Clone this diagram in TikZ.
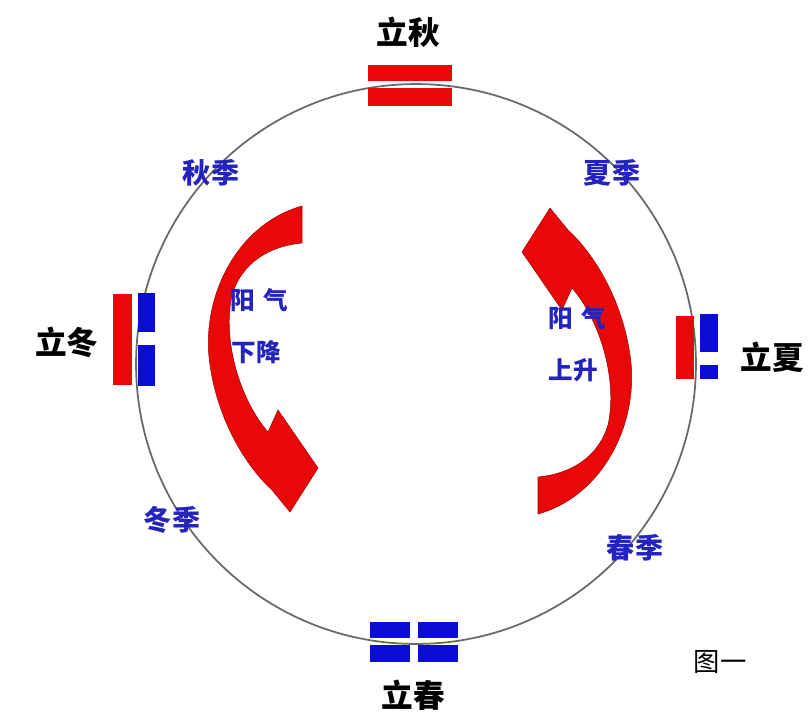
\documentclass[tikz,border=0pt]{standalone}
\usepackage{fontspec}
\newfontfamily\cjk{Noto Sans CJK SC}
\usepackage{tikz}
\usetikzlibrary{positioning}
\definecolor{yangred}{RGB}{232,8,8}
\definecolor{yinblue}{RGB}{12,12,215}
\definecolor{labelblue}{RGB}{35,35,190}
\definecolor{ringgray}{RGB}{105,105,105}

\begin{document}
\begin{tikzpicture}[x=0.02cm,y=-0.02cm,
    term/.style={font=\cjk\bfseries\fontsize{18}{20}\selectfont,text=black,inner sep=0pt},
    season/.style={font=\cjk\bfseries\fontsize{16}{18}\selectfont,text=labelblue,inner sep=0pt},
    qi/.style={font=\cjk\bfseries\fontsize{14}{16}\selectfont,text=labelblue,inner sep=0pt},
    yangbar/.style={fill=yangred},
    yinbar/.style={fill=yinblue},
    flow/.style={fill=yangred,draw=red!65!black,line width=0.3pt}]
  \useasboundingbox (0,0) rectangle (808,718);
  % the ring
  \draw[ringgray,line width=1pt] (416,364) circle[radius=5.6cm];
  % bars of the four terms
  \fill[yangbar] (368,65) rectangle (452,81);
  \fill[yangbar] (368,88) rectangle (452,106);
  \fill[yinbar] (370,622) rectangle (410,638);
  \fill[yinbar] (418,622) rectangle (458,638);
  \fill[yinbar] (370,645) rectangle (410,662);
  \fill[yinbar] (418,645) rectangle (458,662);
  \fill[yangbar] (113,294) rectangle (132,385);
  \fill[yinbar] (138,293) rectangle (155,332);
  \fill[yinbar] (138,345) rectangle (155,386);
  \fill[yangbar] (676,316) rectangle (694,379);
  \fill[yinbar] (700,314) rectangle (718,352);
  \fill[yinbar] (700,365) rectangle (718,379);
  % curved arrows
  \fill[flow] (302,206) .. controls (235,225) and (200,300) .. (210,365)
    .. controls (218,420) and (245,465) .. (272,490) -- (290,512) -- (318,468)
    -- (278,410) -- (268,432) .. controls (240,400) and (222,340) .. (232,295)
    .. controls (242,262) and (270,246) .. (302,243) -- cycle;
  \fill[flow,rotate around={180:(420,360)}] (302,206) .. controls (235,225) and (200,300) .. (210,365)
    .. controls (218,420) and (245,465) .. (272,490) -- (290,512) -- (318,468)
    -- (278,410) -- (268,432) .. controls (240,400) and (222,340) .. (232,295)
    .. controls (242,262) and (270,246) .. (302,243) -- cycle;
  % labels
  \node[term] (liqiu) at (408,32) {立秋};
  \node[term] (lidong) at (67,342) {立冬};
  \node[term] (lixia) at (772,357) {立夏};
  \node[term] (lichun) at (413,695) {立春};
  \node[season] (qiuji) at (211,173) {秋季};
  \node[season] (xiaji) at (612,173) {夏季};
  \node[season] (dongji) at (172,520) {冬季};
  \node[season] (chunji) at (635,548) {春季};
  \node[qi] (yangqiL) at (259,300) {阳\,\,气};
  \node[qi] (xiajiang) at (256,352) {下降};
  \node[qi] (yangqiR) at (577,318) {阳\,\,气};
  \node[qi] (shangsheng) at (573,370) {上升};
  \node[term,font=\cjk\fontsize{15}{17}\selectfont] (tuyi) at (720,662) {图一};
\end{tikzpicture}
\end{document}
